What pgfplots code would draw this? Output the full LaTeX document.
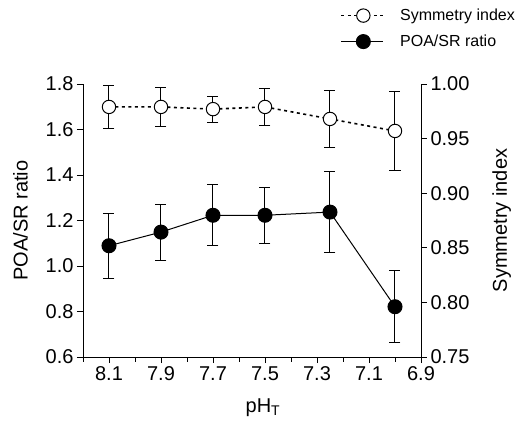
\documentclass[border=0pt]{standalone}
\usepackage{fontspec}
\setmainfont{Liberation Sans}
\usepackage{pgfplots}
\pgfplotsset{compat=1.18}

\newcommand{\tickfont}{\fontsize{20bp}{24bp}\selectfont}
\newcommand{\legfont}{\fontsize{16bp}{19bp}\selectfont}

\pgfplotsset{
  twin/.style={
    scale only axis, width=338bp, height=273bp,
    x dir=reverse, xmin=6.9, xmax=8.2,
    tick align=outside, major tick length=6bp, minor tick length=4.5bp,
    every tick/.style={black, line width=0.9bp},
    axis line style={black, line width=0.9bp},
    ticklabel style={font=\tickfont},
    label style={font=\tickfont},
    /pgf/number format/assume math mode=true,
    clip=false,
  },
}

\begin{document}
\begin{tikzpicture}
% left axis: POA/SR ratio
\begin{axis}[twin, name=ax,
  ymin=0.6, ymax=1.8,
  axis x line*=bottom, axis y line*=left,
  xtick={8.1,7.9,7.7,7.5,7.3,7.1,6.9},
  minor xtick={8.2,8.0,7.8,7.6,7.4,7.2,7.0},
  xticklabel style={/pgf/number format/.cd, fixed, fixed zerofill, precision=1},
  ytick={0.6,0.8,1.0,1.2,1.4,1.6,1.8},
  yticklabel style={/pgf/number format/.cd, fixed, fixed zerofill, precision=1},
  xlabel={pH\textsubscript{T}},
  xlabel style={at={(axis description cs:0.5325,-0.204)}, anchor=base},
  ylabel={POA/SR ratio},
  ylabel style={at={(axis description cs:-0.185,0.5)}, anchor=center},
]
\addplot[black, line width=1bp, mark=*, mark size=7bp,
  mark options={solid, fill=black},
  error bars/.cd, y dir=both, y explicit,
  error bar style={black, line width=1bp},
  error mark options={rotate=90, mark size=5.5bp, line width=1bp, black}]
  coordinates {
  (8.1,1.089) +- (0,0.143)
  (7.9,1.149) +- (0,0.123)
  (7.7,1.223) +- (0,0.134)
  (7.5,1.223) +- (0,0.123)
  (7.25,1.237) +- (0,0.179)
  (7.0,0.821) +- (0,0.158)
};
\end{axis}

% right axis: symmetry index
\begin{axis}[twin,
  ymin=0.75, ymax=1.0,
  axis x line=none, axis y line*=right,
  ytick={0.75,0.8,0.85,0.9,0.95,1.0},
  yticklabel style={/pgf/number format/.cd, fixed, fixed zerofill, precision=2},
  ylabel={Symmetry index},
  ylabel style={at={(axis description cs:1.239,0.5)}, anchor=center, rotate=0},
  legend style={at={(axis description cs:0.762,1.203)}, anchor=west,
    draw=none, fill=none, font=\legfont, legend cell align=left,
    inner sep=0pt, outer sep=0pt, row sep=7bp, column sep=14bp,
    nodes={inner sep=2bp, text height=12bp, text depth=3bp}},
  legend image code/.code={\draw[mark repeat=2, mark phase=2, #1]
    plot coordinates {(0bp,0bp) (22bp,0bp) (42bp,0bp)};},
]
\addplot[black, line width=1.6bp, dash pattern=on 3bp off 3.5bp,
  mark=*, mark size=6.7bp,
  mark options={solid, fill=white, line width=1bp},
  error bars/.cd, y dir=both, y explicit,
  error bar style={black, solid, line width=1bp},
  error mark options={rotate=90, mark size=5.5bp, line width=1bp, black, solid}]
  coordinates {
  (8.1,0.979) +- (0,0.020)
  (7.9,0.979) +- (0,0.018)
  (7.7,0.977) +- (0,0.012)
  (7.5,0.979) +- (0,0.017)
  (7.25,0.968) +- (0,0.026)
  (7.0,0.957) +- (0,0.036)
};
\addlegendentry{Symmetry index}
\addlegendimage{black, line width=1bp, mark=*, mark size=7bp, mark options={solid, fill=black}}
\addlegendentry{POA/SR ratio}
\end{axis}

\pgfresetboundingbox
\path ([shift={(-83bp,-64bp)}]ax.south west) rectangle ([shift={(95bp,84bp)}]ax.north east);
\end{tikzpicture}
\end{document}
